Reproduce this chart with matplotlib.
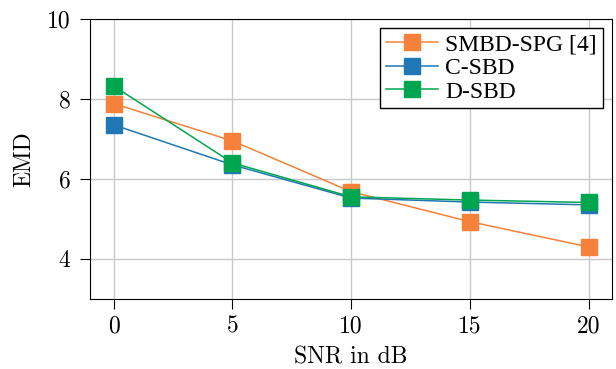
import matplotlib
matplotlib.use("Agg")
import matplotlib.pyplot as plt

snr = [0, 5, 10, 15, 20]
smbd_spg = [7.88, 6.95, 5.68, 4.93, 4.30]
c_sbd = [7.35, 6.35, 5.52, 5.42, 5.35]
d_sbd = [8.32, 6.40, 5.55, 5.47, 5.41]

plt.rcParams["font.family"] = ["Liberation Serif", "DejaVu Serif"]
plt.rcParams["font.size"] = 17

fig, ax = plt.subplots(figsize=(6.16, 3.69), dpi=100)
fig.subplots_adjust(left=0.146, right=0.994, top=0.949, bottom=0.19)

ax.plot(snr, smbd_spg, color="#F5813A", marker="s", markersize=12, lw=1.1, label="SMBD-SPG [4]")
ax.plot(snr, c_sbd, color="#1F77B4", marker="s", markersize=12, lw=1.1, label="C-SBD")
ax.plot(snr, d_sbd, color="#00A550", marker="s", markersize=12, lw=1.1, label="D-SBD")

ax.set_xlim(-1, 21)
ax.set_ylim(3, 10)
ax.set_xticks([0, 5, 10, 15, 20])
ax.set_yticks([4, 6, 8, 10])
ax.tick_params(axis="x", length=7, pad=5)
ax.tick_params(axis="y", length=7, pad=7)
for lab in ax.get_xticklabels() + ax.get_yticklabels():
    lab.set_fontfamily("cmr10")
    lab.set_fontsize(17)
ax.grid(True, color="#c8c8c8", lw=1)
ax.set_axisbelow(True)
ax.set_xlabel("SNR in dB", fontfamily="cmr10", fontsize=17, labelpad=6)
ax.set_ylabel("EMD", fontfamily="cmr10", fontsize=17, labelpad=8)
for s in ax.spines.values():
    s.set_color("black")

leg = ax.legend(loc="upper right", fancybox=False, edgecolor="black", framealpha=1,
                borderpad=0.25, handlelength=2.2, handletextpad=0.3,
                labelspacing=0.08, borderaxespad=0.4, fontsize=17)
leg.get_frame().set_linewidth(1)

fig.savefig("out.png", dpi=100)
